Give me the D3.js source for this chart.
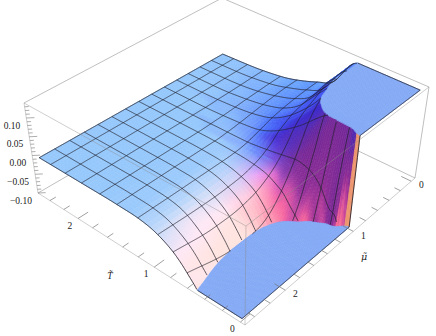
<!DOCTYPE html>
<html><head><meta charset="utf-8">
<style>html,body{margin:0;padding:0;background:#fff}svg{display:block}</style>
<script src="https://cdnjs.cloudflare.com/ajax/libs/d3/7.8.5/d3.min.js"></script>
</head><body><svg id="c" width="436" height="336"></svg>
<script>
// ---- data ----
const tGrid  = [0,.1,.2,.3,.4,.5,.6,.7,.8,1,1.2,1.4,1.6,1.8,2,2.5];
const muGrid = [0,.2,.4,.6,.7,.8,.9,1,1.1,1.2,1.4,1.6,1.8,2,2.5];
const zRows = [
 [.6,.6,.6,.6,.6,.6,.4,-.1,-.5,-.5,-.5,-.5,-.5,-.5,-.5],
 [.45,.45,.45,.44,.4,.3,.16,.02,-.12,-.18,-.26,-.3,-.32,-.32,-.32],
 [.36,.36,.36,.35,.3,.22,.14,.03,-.09,-.14,-.2,-.23,-.25,-.25,-.25],
 [.3,.3,.3,.28,.25,.2,.135,.045,-.045,-.12,-.16,-.18,-.19,-.2,-.2],
 [.25,.25,.25,.23,.21,.18,.13,.055,-.015,-.075,-.14,-.16,-.165,-.16,-.14],
 [.2,.2,.2,.19,.17,.15,.115,.055,0,-.05,-.115,-.13,-.135,-.13,-.097],
 [.165,.165,.165,.155,.145,.125,.095,.05,.008,-.028,-.08,-.1,-.102,-.1,-.072],
 [.14,.14,.14,.125,.115,.1,.075,.04,.008,-.018,-.052,-.068,-.072,-.07,-.05],
 [.125,.122,.12,.1,.09,.078,.058,.03,.007,-.01,-.032,-.042,-.046,-.046,-.033],
 [.06,.06,.06,.055,.05,.04,.03,.015,.004,-.004,-.013,-.016,-.017,-.016,-.012],
 [.04,.038,.034,.028,.024,.018,.012,.006,.001,-.002,-.004,-.004,-.004,-.004,-.003],
 [.025,.024,.02,.015,.012,.009,.006,.003,.001,-.001,-.001,-.001,-.001,-.001,-.001],
 [.014,.013,.011,.008,.006,.004,.003,.002,.001,0,0,0,0,0,0],
 [.008,.007,.005,.004,.003,.002,.001,.001,0,0,0,0,0,0,0],
 [.004,.003,.002,.001,.001,0,0,0,0,0,0,0,0,0,0],
 [0,0,0,0,0,0,0,0,0,0,0,0,0,0,0]
];
const meshT  = [.15,.3,.45,.62,.78,.96,1.2,1.46,1.68,1.92,2.14,2.34];
const meshMu = [.18,.36,.54,.71,.89,1.07,1.25,1.43,1.61,1.79,1.96,2.14,2.32];
const tMajor = [0,1,2], muMajor = [0,1,2];
const tMinor = [.2,.4,.6,.8,1.2,1.4,1.6,1.8,2.2,2.4];
const muMinor = [.2,.4,.6,.8,1.2,1.4,1.6,1.8,2.2,2.4];
const zMajor = [-.1,-.05,0,.05,.1];
const zMinor = [-.09,-.08,-.07,-.06,-.04,-.03,-.02,-.01,.01,.02,.03,.04,.06,.07,.08,.09,.11,.12,.13];
const zLabels = ["\u22120.10","\u22120.05","0.00","0.05","0.10"];
const zClip = [-.095,.135];
const plateau = "#84aaf5";
// shading table: colour by the tilt of the surface normal
const tiltT  = [-.9,-.6,-.3,0,.3,.6];
const tiltMu = [0,.3,.6,.9];
const shadeTable = [
 [[255,225,210],[255,232,245],[195,218,250],[150,200,252],[100,160,255],[85,130,255]],
 [[255,150,170],[255,170,200],[235,165,245],[110,140,250],[75,110,250],[65,80,240]],
 [[250,110,140],[245,100,165],[215,100,200],[120,80,220],[70,50,215],[60,40,200]],
 [[240,120,110],[190,60,150],[140,45,150],[120,40,150],[90,40,170],[70,40,180]]
];
const ribbonColor = [236,150,110];

// ---- projection: box corners on screen ----
const cb = {C:[415,178],D:[222,86],B:[38,193],A:[245,325]};
const ct = {C:[429,87],D:[222,-2],B:[24,103],A:[246,226]};
function homog(q){ const [x0,y0]=q.C,[x1,y1]=q.D,[x2,y2]=q.B,[x3,y3]=q.A;
 const dx1=x1-x2,dx2=x3-x2,sx=x0-x1+x2-x3,dy1=y1-y2,dy2=y3-y2,sy=y0-y1+y2-y3;
 const den=dx1*dy2-dx2*dy1,g=(sx*dy2-dx2*sy)/den,h=(dx1*sy-sx*dy1)/den;
 const a=x1-x0+g*x1,b=x3-x0+h*x3,d=y1-y0+g*y1,e=y3-y0+h*y3;
 return (u,v)=>{const w=g*u+h*v+1;return [(a*u+b*v+x0)/w,(d*u+e*v+y0)/w];};}
const hb=homog(cb),ht=homog(ct);
const sT=d3.scaleLinear().domain([-.05,2.575]).range([0,1]);
const sM=d3.scaleLinear().domain([-.07,2.52]).range([0,1]);
const sZ=d3.scaleLinear().domain([-.1,.14]).range([0,1]);
function P(T,m,z){const u=sT(T),v=sM(m),w=sZ(z),a=hb(u,v),b=ht(u,v);return [a[0]+(b[0]-a[0])*w,a[1]+(b[1]-a[1])*w];}

// ---- smooth resampling of the table ----
function tangents(xs,ys){const n=xs.length,d=[],m=new Array(n);
 for(let i=0;i<n-1;i++)d.push((ys[i+1]-ys[i])/(xs[i+1]-xs[i]));
 m[0]=d[0];m[n-1]=d[n-2];
 for(let i=1;i<n-1;i++){m[i]=d[i-1]*d[i]<=0?0:(d[i-1]+d[i])/2;
  const lim=3*Math.min(Math.abs(d[i-1]),Math.abs(d[i]));if(Math.abs(m[i])>lim)m[i]=Math.sign(m[i])*lim;}
 return m;}
function herm(xs,ys,x){const m=tangents(xs,ys);let i=d3.bisectRight(xs,x)-1;i=Math.max(0,Math.min(xs.length-2,i));
 const h=xs[i+1]-xs[i],t=(x-xs[i])/h,t2=t*t,t3=t2*t;
 return (2*t3-3*t2+1)*ys[i]+(t3-2*t2+t)*h*m[i]+(-2*t3+3*t2)*ys[i+1]+(t3-t2)*h*m[i+1];}
function Zf(T,m){const col=zRows.map(r=>herm(muGrid,r,m));return herm(tGrid,col,T);}

// fine sampling
const tS=[],mS=[];
for(let t=0;t<1;t+=.02)tS.push(+t.toFixed(3));for(let t=1;t<=2.5001;t+=.05)tS.push(+t.toFixed(3));
for(let m=0;m<.8;m+=.04)mS.push(+m.toFixed(3));for(let m=.8;m<1.4;m+=.01)mS.push(+m.toFixed(3));for(let m=1.4;m<=2.5001;m+=.04)mS.push(+m.toFixed(3));
if(mS[mS.length-1]<2.5)mS.push(2.5);
const colRows=mS.map(m=>zRows.map(r=>herm(muGrid,r,m)));
const G=tS.map(T=>colRows.map(c=>herm(tGrid,c,T)));
const clipZ=z=>Math.max(zClip[0],Math.min(zClip[1],z));

function idx(xs,x){x=Math.max(xs[0],Math.min(xs[xs.length-1],x));let i=Math.min(xs.length-2,d3.bisectRight(xs,x)-1);return [i,(x-xs[i])/(xs[i+1]-xs[i])];}
function shade(nT,nM){const [i,a]=idx(tiltT,nT),[j,b]=idx(tiltMu,nM);
 const r0=shadeTable[j],r1=shadeTable[j+1],c=[0,1,2].map(k=>(1-b)*((1-a)*r0[i][k]+a*r0[i+1][k])+b*((1-a)*r1[i][k]+a*r1[i+1][k]));
 return `rgb(${c.map(Math.round).join(",")})`;}

// keep the part of a polygon where f(vertex) >= 0
function clipPoly(poly,f){const out=[];
 for(let i=0;i<poly.length;i++){const a=poly[i],b=poly[(i+1)%poly.length],fa=f(a),fb=f(b);
  if(fa>=0)out.push(a);
  if((fa>=0)!==(fb>=0)){const t=fa/(fa-fb);out.push(a.map((v,k)=>v+(b[k]-v)*t));}}
 return out;}
const proj=poly=>poly.map(v=>P(v[0],v[1],clipZ(v[2])));
const quads=[];
for(let i=tS.length-2;i>=0;i--)for(let j=0;j<mS.length-1;j++){
 const poly=[[i,j],[i,j+1],[i+1,j+1],[i+1,j]].map(([a,b])=>[tS[a],mS[b],G[a][b]]);
 const z00=G[i][j],z01=G[i][j+1],z10=G[i+1][j],z11=G[i+1][j+1];
 const zT=((z10+z11)-(z00+z01))/2/(tS[i+1]-tS[i]),zM=((z01+z11)-(z00+z10))/2/(mS[j+1]-mS[j]);
 let fill;
 if(Math.abs(zM)>3.5)fill=`rgb(${ribbonColor})`;
 else{const k=4.245,nx=-k*zT,ny=-k*zM,l=Math.hypot(nx,ny,1);fill=shade(nx/l,ny/l);}
 const upper=clipPoly(poly,v=>v[2]-zClip[1]),lower=clipPoly(poly,v=>zClip[0]-v[2]);
 const mid=clipPoly(clipPoly(poly,v=>v[2]-zClip[0]),v=>zClip[1]-v[2]);
 if(mid.length>2)quads.push({pts:proj(mid),fill});
 if(upper.length>2)quads.push({pts:proj(upper),fill:plateau});
 if(lower.length>2)quads.push({pts:proj(lower),fill:plateau});
}
const svg=d3.select("#c");
const line=d3.line();
const grey="#a4a4a4";
// back box edges
const back=[["D","B"],["D","C"]];
svg.append("g").selectAll("path").data(back).join("path").attr("d",e=>line([cb[e[0]],cb[e[1]]])).attr("stroke",grey).attr("fill","none").attr("stroke-width",.7);
svg.append("path").attr("d",line([ct.B,ct.D,ct.C])).attr("stroke",grey).attr("fill","none").attr("stroke-width",.7);
svg.append("path").attr("d",line([ct.C,cb.C])).attr("stroke",grey).attr("fill","none").attr("stroke-width",.7);
// surface
svg.append("g").selectAll("path").data(quads).join("path")
 .attr("d",q=>line(q.pts)+"Z").attr("fill",q=>q.fill).attr("stroke",q=>q.fill).attr("stroke-width",.6);
// mesh
const inR=z=>z<zClip[1]&&z>zClip[0];
function segs(fn,samples){const out=[];let cur=[];
 for(const s of samples){const [T,m]=fn(s);const z=Zf(T,m);
  if(inR(z))cur.push(P(T,m,z));else{if(cur.length>1)out.push(cur);cur=[];}}
 if(cur.length>1)out.push(cur);return out;}
const fineM=d3.range(0,2.5001,.005),fineT=d3.range(0,2.5001,.01);
const meshLines=[];
meshT.forEach(T=>segs(m=>[T,m],fineM).forEach(s=>meshLines.push(s)));
meshMu.forEach(m=>segs(T=>[T,m],fineT).forEach(s=>meshLines.push(s)));
svg.append("g").selectAll("path").data(meshLines).join("path").attr("d",d=>line(d))
 .attr("fill","none").attr("stroke","#22222c").attr("stroke-opacity",.85).attr("stroke-width",.85);
// surface outline
const edges=[];
segs(m=>[2.5,m],fineM).forEach(s=>edges.push(s));
segs(T=>[T,2.5],fineT).forEach(s=>edges.push(s));
segs(T=>[T,0],fineT).forEach(s=>edges.push(s));
edges.push(fineM.map(m=>P(0,m,clipZ(Zf(0,m)))));
edges.push(fineT.filter(T=>Zf(T,0)>=zClip[1]).map(T=>P(T,0,zClip[1])));
edges.push(fineT.filter(T=>Zf(T,2.5)<=zClip[0]).map(T=>P(T,2.5,zClip[0])));
svg.append("g").selectAll("path").data(edges).join("path").attr("d",d=>line(d))
 .attr("fill","none").attr("stroke","#20202a").attr("stroke-width",.85);
// front box edges
const front=[[ct.B,ct.A],[ct.A,ct.C],[ct.A,cb.A],[ct.B,cb.B],[cb.B,cb.A],[cb.A,cb.C]];
svg.append("g").selectAll("path").data(front).join("path").attr("d",d=>line(d)).attr("fill","none")
 .attr("stroke","#8a8a8a").attr("stroke-opacity",.6).attr("stroke-width",.7);
// ticks
const zb=sZ.domain()[0];
const tTickData=[...tMajor.map(v=>({v,l:.06})),...tMinor.map(v=>({v,l:.035}))];
svg.append("g").selectAll("path").data(tTickData).join("path").attr("d",d=>line([P(d.v,sM.domain()[1],zb),P(d.v,sM.domain()[1]-d.l*2,zb)])).attr("stroke","#777").attr("stroke-width",.7);
const mTickData=[...muMajor.map(v=>({v,l:.06})),...muMinor.map(v=>({v,l:.035}))];
svg.append("g").selectAll("path").data(mTickData).join("path").attr("d",d=>line([P(sT.domain()[0],d.v,zb),P(sT.domain()[0]+d.l*2,d.v,zb)])).attr("stroke","#777").attr("stroke-width",.7);
const zTickData=[...zMajor.map(v=>({v,l:.05})),...zMinor.map(v=>({v,l:.025}))];
svg.append("g").selectAll("path").data(zTickData).join("path").attr("d",d=>{const T=sT.domain()[1],m=sM.domain()[1];return line([P(T,m,d.v),P(T-d.l,m-d.l,d.v)]);}).attr("stroke","#777").attr("stroke-width",.6);
// labels
const font='"Liberation Serif",serif';
const txt=(x,y,s,anchor,italic,fam)=>svg.append("text").attr("x",x).attr("y",y).attr("text-anchor",anchor||"middle").attr("dominant-baseline","middle").attr("font-family",fam||font).attr("font-size",9.5).attr("font-style",italic?"italic":"normal").attr("fill","#222").text(s);
zMajor.forEach((v,i)=>{const p=P(sT.domain()[1],sM.domain()[1],v);txt(p[0]-6,p[1]+8.5,zLabels[i],"end");});
tMajor.forEach(v=>{const p=P(v,sM.domain()[1],zb);txt(p[0]-8,p[1]+8,String(v));});
muMajor.forEach(v=>{const p=P(sT.domain()[0],v,zb);txt(p[0]+10,p[1]+5,String(v));});
txt(110,277,"T\u0303","middle",true);
txt(364,257,"\u03BC\u0303","middle",true,'"DejaVu Serif",serif');
</script></body></html>
